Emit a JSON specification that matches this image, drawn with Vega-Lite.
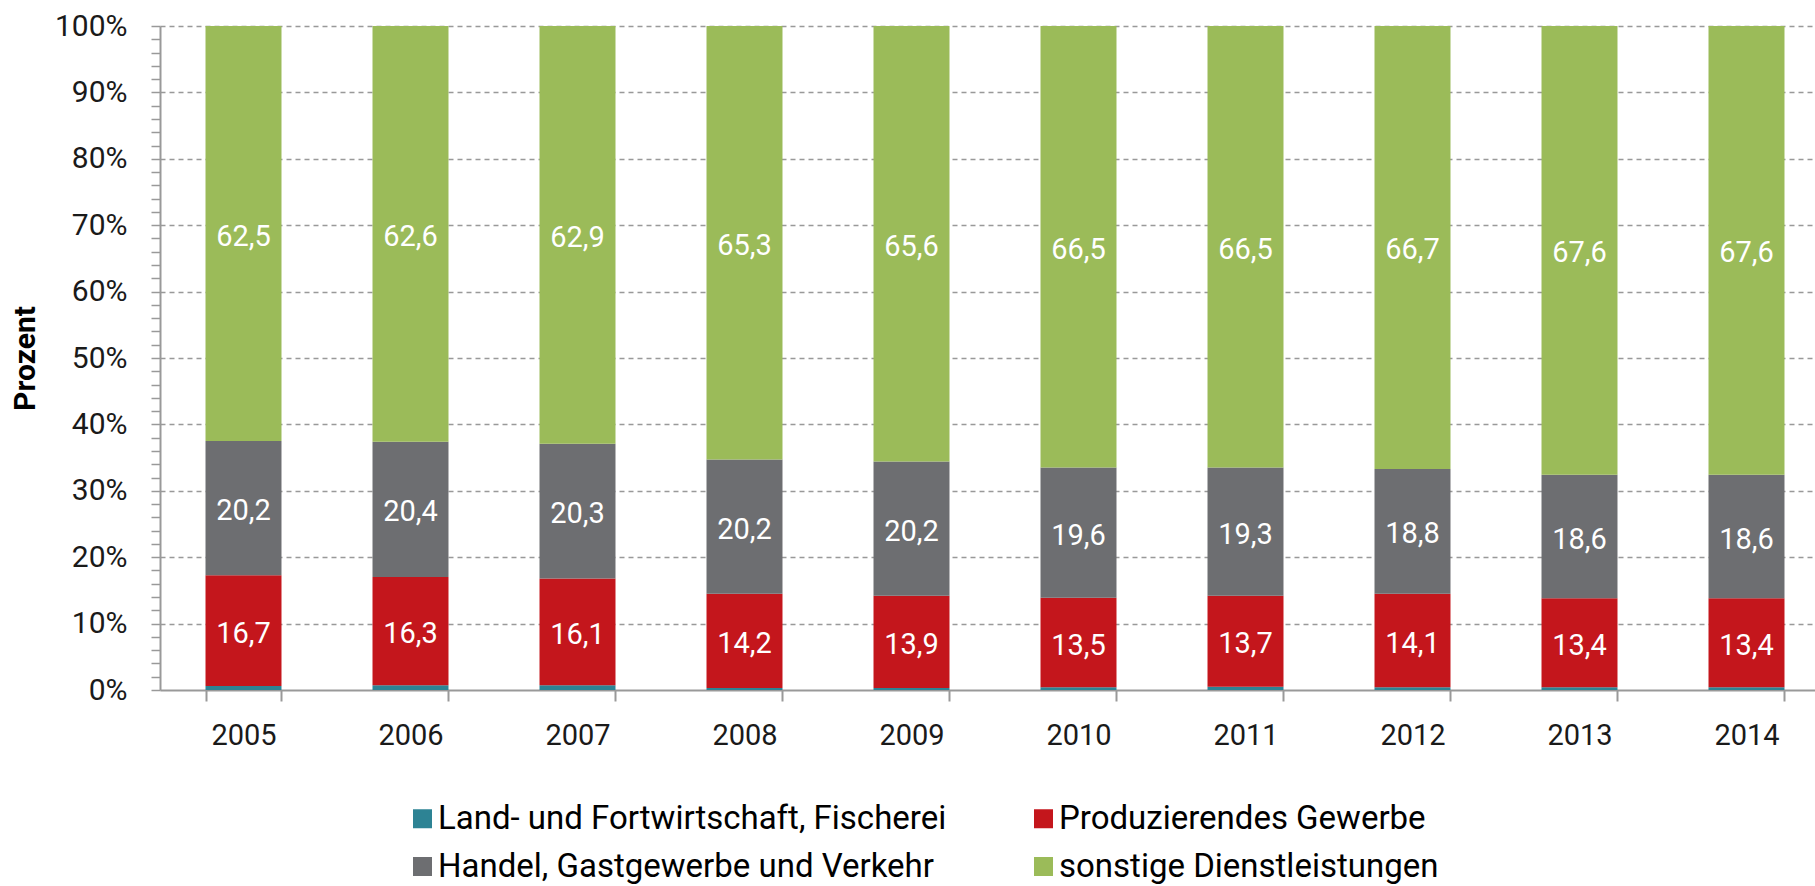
{
  "$schema": "https://vega.github.io/schema/vega-lite/v6.json",
  "autosize": {"type": "none"},
  "width": 1655,
  "height": 664,
  "padding": {"left": 160, "top": 26, "right": 0, "bottom": 196},
  "background": "white",
  "data": {
    "values": [
      {"year": "2005", "sector": "Land- und Fortwirtschaft, Fischerei", "k": 0, "v": 0.6},
      {"year": "2005", "sector": "Produzierendes Gewerbe", "k": 1, "v": 16.7},
      {"year": "2005", "sector": "Handel, Gastgewerbe und Verkehr", "k": 2, "v": 20.2},
      {"year": "2005", "sector": "sonstige Dienstleistungen", "k": 3, "v": 62.5},
      {"year": "2006", "sector": "Land- und Fortwirtschaft, Fischerei", "k": 0, "v": 0.7},
      {"year": "2006", "sector": "Produzierendes Gewerbe", "k": 1, "v": 16.3},
      {"year": "2006", "sector": "Handel, Gastgewerbe und Verkehr", "k": 2, "v": 20.4},
      {"year": "2006", "sector": "sonstige Dienstleistungen", "k": 3, "v": 62.6},
      {"year": "2007", "sector": "Land- und Fortwirtschaft, Fischerei", "k": 0, "v": 0.7},
      {"year": "2007", "sector": "Produzierendes Gewerbe", "k": 1, "v": 16.1},
      {"year": "2007", "sector": "Handel, Gastgewerbe und Verkehr", "k": 2, "v": 20.3},
      {"year": "2007", "sector": "sonstige Dienstleistungen", "k": 3, "v": 62.9},
      {"year": "2008", "sector": "Land- und Fortwirtschaft, Fischerei", "k": 0, "v": 0.3},
      {"year": "2008", "sector": "Produzierendes Gewerbe", "k": 1, "v": 14.2},
      {"year": "2008", "sector": "Handel, Gastgewerbe und Verkehr", "k": 2, "v": 20.2},
      {"year": "2008", "sector": "sonstige Dienstleistungen", "k": 3, "v": 65.3},
      {"year": "2009", "sector": "Land- und Fortwirtschaft, Fischerei", "k": 0, "v": 0.3},
      {"year": "2009", "sector": "Produzierendes Gewerbe", "k": 1, "v": 13.9},
      {"year": "2009", "sector": "Handel, Gastgewerbe und Verkehr", "k": 2, "v": 20.2},
      {"year": "2009", "sector": "sonstige Dienstleistungen", "k": 3, "v": 65.6},
      {"year": "2010", "sector": "Land- und Fortwirtschaft, Fischerei", "k": 0, "v": 0.4},
      {"year": "2010", "sector": "Produzierendes Gewerbe", "k": 1, "v": 13.5},
      {"year": "2010", "sector": "Handel, Gastgewerbe und Verkehr", "k": 2, "v": 19.6},
      {"year": "2010", "sector": "sonstige Dienstleistungen", "k": 3, "v": 66.5},
      {"year": "2011", "sector": "Land- und Fortwirtschaft, Fischerei", "k": 0, "v": 0.5},
      {"year": "2011", "sector": "Produzierendes Gewerbe", "k": 1, "v": 13.7},
      {"year": "2011", "sector": "Handel, Gastgewerbe und Verkehr", "k": 2, "v": 19.3},
      {"year": "2011", "sector": "sonstige Dienstleistungen", "k": 3, "v": 66.5},
      {"year": "2012", "sector": "Land- und Fortwirtschaft, Fischerei", "k": 0, "v": 0.4},
      {"year": "2012", "sector": "Produzierendes Gewerbe", "k": 1, "v": 14.1},
      {"year": "2012", "sector": "Handel, Gastgewerbe und Verkehr", "k": 2, "v": 18.8},
      {"year": "2012", "sector": "sonstige Dienstleistungen", "k": 3, "v": 66.7},
      {"year": "2013", "sector": "Land- und Fortwirtschaft, Fischerei", "k": 0, "v": 0.4},
      {"year": "2013", "sector": "Produzierendes Gewerbe", "k": 1, "v": 13.4},
      {"year": "2013", "sector": "Handel, Gastgewerbe und Verkehr", "k": 2, "v": 18.6},
      {"year": "2013", "sector": "sonstige Dienstleistungen", "k": 3, "v": 67.6},
      {"year": "2014", "sector": "Land- und Fortwirtschaft, Fischerei", "k": 0, "v": 0.4},
      {"year": "2014", "sector": "Produzierendes Gewerbe", "k": 1, "v": 13.4},
      {"year": "2014", "sector": "Handel, Gastgewerbe und Verkehr", "k": 2, "v": 18.6},
      {"year": "2014", "sector": "sonstige Dienstleistungen", "k": 3, "v": 67.6}
    ]
  },
  "transform": [
    {"stack": "v", "groupby": ["year"], "sort": [{"field": "k", "order": "ascending"}], "as": ["v0", "v1"]}
  ],
  "encoding": {
    "x": {
      "field": "year",
      "type": "nominal",
      "sort": null,
      "scale": {"range": [0, 1670], "paddingInner": 0.545, "paddingOuter": 0.2725},
      "axis": {
        "title": null,
        "labelAngle": 0,
        "labelFont": "Roboto",
        "labelFontSize": 29,
        "labelColor": "#1a1a1a",
        "labelBaseline": "middle",
        "labelPadding": 34,
        "tickBand": "extent",
        "tickSize": 11,
        "tickColor": "#999999",
        "tickWidth": 2,
        "domainColor": "#999999",
        "domainWidth": 2,
        "grid": false
      }
    }
  },
  "layer": [
    {
      "mark": {"type": "bar"},
      "encoding": {
        "y": {
          "field": "v0",
          "type": "quantitative",
          "scale": {"domain": [0, 100], "nice": false},
          "axis": {
            "title": "Prozent",
            "titleFont": "Roboto",
            "titleFontWeight": "bold",
            "titleFontSize": 30,
            "titleColor": "#000000",
            "titlePadding": 14,
            "tickCount": 50,
            "labelExpr": "datum.value % 10 === 0 ? datum.value + '%' : ''",
            "labelOverlap": false,
            "labelFont": "Roboto",
            "labelFontSize": 30,
            "labelColor": "#1a1a1a",
            "labelPadding": 24,
            "tickSize": 9,
            "tickColor": "#999999",
            "tickWidth": 1.5,
            "domainColor": "#999999",
            "domainWidth": 2,
            "grid": true,
            "gridColor": "#999999",
            "gridWidth": 1.5,
            "gridDash": [5, 4],
            "gridOpacity": {"condition": {"test": "datum.value % 10 === 0 && datum.value > 0", "value": 1}, "value": 0}
          }
        },
        "y2": {"field": "v1"},
        "color": {
          "field": "sector",
          "type": "nominal",
          "scale": {
            "domain": ["Land- und Fortwirtschaft, Fischerei", "Handel, Gastgewerbe und Verkehr", "Produzierendes Gewerbe", "sonstige Dienstleistungen"],
            "range": ["#2D8394", "#6D6E71", "#C4161C", "#9BBB59"]
          },
          "legend": {
            "title": null,
            "orient": "none",
            "legendX": 246,
            "legendY": 776,
            "columns": 2,
            "columnPadding": 80,
            "rowPadding": 14,
            "padding": 0,
            "symbolType": "square",
            "symbolSize": 361,
            "symbolStrokeWidth": 0,
            "symbolOpacity": 1,
            "labelFont": "Roboto",
            "labelFontSize": 33,
            "labelColor": "#000000",
            "labelOffset": -1,
            "labelLimit": 1000
          }
        }
      }
    },
    {
      "transform": [
        {"filter": "datum.k > 0"},
        {"calculate": "(datum.v0 + datum.v1) / 2", "as": "mid"}
      ],
      "mark": {"type": "text", "color": "white", "font": "Roboto", "fontSize": 29, "baseline": "middle", "align": "center", "dy": 3},
      "encoding": {
        "y": {"field": "mid", "type": "quantitative"},
        "text": {"field": "v", "type": "quantitative", "format": ".1f"}
      }
    }
  ],
  "config": {
    "view": {"stroke": null},
    "locale": {"number": {"decimal": ",", "thousands": ".", "grouping": [3], "currency": ["", " €"]}}
  }
}
